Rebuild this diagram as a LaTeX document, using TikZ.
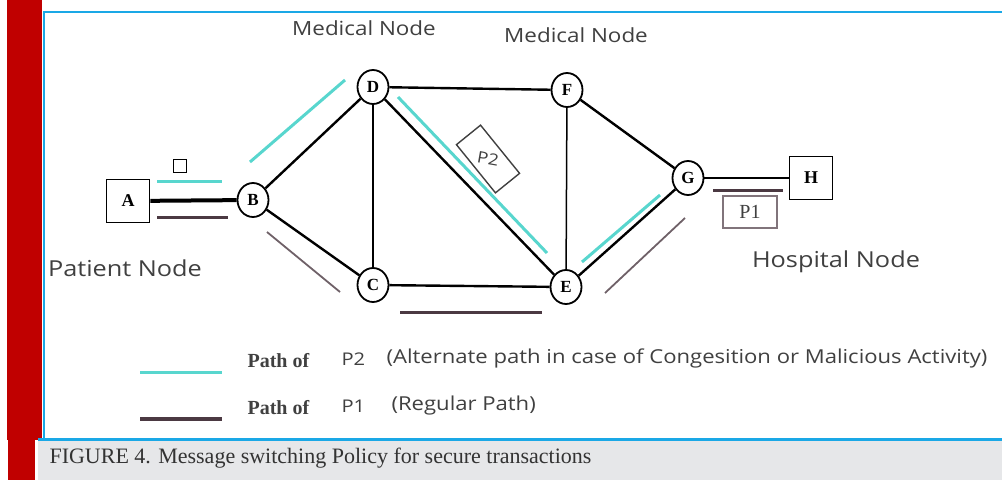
\documentclass[tikz,border=0pt]{standalone}
\usepackage{fontspec}
\setmainfont{Liberation Serif}
\setsansfont[FakeStretch=1.15]{Open Sans}
\usetikzlibrary{shapes.geometric}
\definecolor{barred}{HTML}{C00000}
\definecolor{frameblue}{HTML}{1AA8E6}
\definecolor{capgray}{HTML}{E6E7E9}
\definecolor{alticol}{HTML}{58D6CE}
\definecolor{regcol}{HTML}{4B3942}
\definecolor{txtgray}{HTML}{404040}

\begin{document}
\begin{tikzpicture}[x=1pt, y=-1pt,
    sw/.style={draw, ellipse, line width=1.8pt, minimum width=31pt, minimum height=34pt, inner sep=0pt, font=\fontsize{17}{17}\selectfont\bfseries},
    term/.style={draw, rectangle, line width=1.8pt, minimum size=43pt, inner sep=0pt, font=\fontsize{18}{18}\selectfont\bfseries},
    link/.style={line width=2.4pt},
    altpath/.style={alticol, line width=3pt},
    regpath/.style={regcol, line width=3pt},
    regthin/.style={regcol!80, line width=1.8pt},
    lbl/.style={font=\sffamily\fontsize{22}{22}\selectfont, text=txtgray},
    legtxt/.style={font=\sffamily\fontsize{19.2}{19.2}\selectfont, text=txtgray, anchor=west},
    pathof/.style={font=\fontsize{20}{20}\selectfont\bfseries, text=txtgray, anchor=west}
  ]
  \useasboundingbox (0,0) rectangle (1002,480);
  \fill[barred] (7,0) rectangle (42,440);
  \fill[barred] (8,440) rectangle (35,480);
  \fill[capgray] (38,441) rectangle (1002,480);
  \draw[frameblue, line width=2pt] (1002,12) -- (44,12) -- (44,439);
  \draw[frameblue, line width=3pt] (38,439.5) -- (1002,439.5);

  \node[term] (a) at (128,201) {A};
  \node[sw] (b) at (253,200) {B};
  \node[sw] (d) at (373,87) {D};
  \node[sw] (c) at (373,285) {C};
  \node[sw] (f) at (567,90) {F};
  \node[sw] (e) at (566,287) {E};
  \node[sw] (g) at (688,178) {G};
  \node[term] (h) at (811,178) {H};

  \draw[link, line width=4pt] (a) -- (b);
  \draw[link] (b) -- (d);
  \draw[link] (b) -- (c);
  \draw[link] (d) -- (c);
  \draw[link] (d) -- (f);
  \draw[link] (d) -- (e);
  \draw[link] (c) -- (e);
  \draw[link, line width=1.5pt] (f) -- (e);
  \draw[link] (f) -- (g);
  \draw[link] (e) -- (g);
  \draw[link] (g) -- (h);

  \node[draw, line width=1.4pt, minimum size=13pt, inner sep=0pt] (pkt) at (180,166) {};
  \node[draw=black!75, line width=1.4pt, minimum width=62pt, minimum height=31pt, rotate=-51,
        font=\sffamily\fontsize{16}{16}\selectfont, text=txtgray] (ptwo) at (488,159) {\rotatebox{41}{P2}};
  \node[draw=regcol!70, line width=1.6pt, minimum width=54pt, minimum height=32pt,
        font=\fontsize{20}{20}\selectfont, text=txtgray] (pone) at (750,212) {P1};

  \draw[altpath] (157,181) -- (222,181);
  \draw[regpath] (157,217) -- (228,217);
  \draw[altpath] (250,162) -- (345,80);
  \draw[regthin] (267,232) -- (340,292);
  \draw[altpath] (398,97) -- (547,253);
  \draw[regpath] (400,312) -- (542,312);
  \draw[altpath] (582,262) -- (660,195);
  \draw[regthin] (605,293) -- (685,218);
  \draw[regpath] (713,190) -- (783,190);

  \node[lbl, font=\sffamily\fontsize{19.5}{19.5}\selectfont] (med1) at (364,28) {Medical Node};
  \node[lbl, font=\sffamily\fontsize{19.5}{19.5}\selectfont] (med2) at (576,35) {Medical Node};
  \node[lbl] (pat) at (125,268) {Patient Node};
  \node[lbl] (hosp) at (836,262) {Hospital Node};

  \draw[altpath] (140,372) -- (222,372);
  \draw[regpath, line width=3.5pt] (140,419) -- (222,419);
  \node[pathof] (po2) at (244,361) {Path of};
  \node[pathof] (po1) at (244,408) {Path of};
  \node[legtxt, font=\sffamily\fontsize{17.5}{17.5}\selectfont] (k2) at (338,359) {P2};
  \node[legtxt, font=\sffamily\fontsize{17.5}{17.5}\selectfont] (k1) at (338,406) {P1};
  \node[legtxt] (d2) at (383,358) {(Alternate path in case of Congesition or Malicious Activity)};
  \node[legtxt] (d1) at (388,406) {(Regular Path)};

  \node[font=\fontsize{22}{22}\selectfont, text=black!80, anchor=west] (cap) at (46,458) {FIGURE 4. Message switching Policy for secure transactions};
\end{tikzpicture}
\end{document}
